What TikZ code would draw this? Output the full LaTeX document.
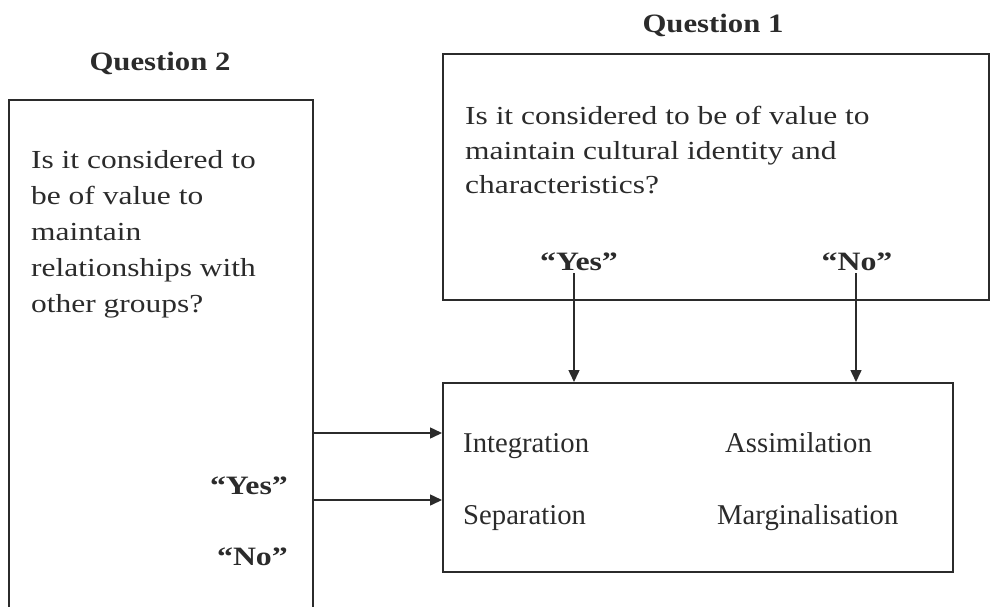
\documentclass[tikz,border=0pt]{standalone}
\usepackage{fontspec}
\setmainfont{Liberation Serif}
\newfontfamily\wideserif[FakeStretch=1.21,Ligatures=TeX]{Liberation Serif}
\newfontfamily\widebold[FakeStretch=1.16,Ligatures=TeX]{Liberation Serif Bold}
\newfontfamily\quotebold[FakeStretch=1.2,Ligatures=TeX]{Liberation Serif Bold}
\usetikzlibrary{arrows.meta}
\definecolor{ink}{HTML}{2B2B2B}
\tikzset{
  frame/.style={draw=ink, line width=1.7pt, rectangle, inner sep=0pt, anchor=north west},
  body/.style={text=ink, font=\wideserif\fontsize{26}{36}\selectfont, inner sep=0pt, align=left},
  outcome/.style={text=ink, font=\fontsize{28.7}{34}\selectfont, inner sep=0pt},
  head/.style={text=ink, font=\widebold\fontsize{26.5}{34}\selectfont, inner sep=0pt},
  answer/.style={text=ink, font=\quotebold\fontsize{26.5}{34}\selectfont, inner sep=0pt},
  link/.style={draw=ink, line width=1.5pt, -{Triangle[length=12pt,width=11pt]}}
}
\begin{document}
\begin{tikzpicture}[x=1pt, y=-1pt]
\useasboundingbox (0,0) rectangle (991,606);
\clip (0,0) rectangle (991,606);

% boxes
\node[frame, minimum width=304pt, minimum height=530pt] (q2box) at (8,99) {};
\node[frame, minimum width=546pt, minimum height=246pt] (q1box) at (442,53) {};
\node[frame, minimum width=510pt, minimum height=189pt] (outbox) at (442,382) {};

% headings
\node[head, anchor=base] (q2head) at (160,70) {Question 2};
\node[head, anchor=base] (q1head) at (713,32) {Question 1};

% questions
\node[body, anchor=north west] (q2text) at (31,150)
  {Is it considered to\\be of value to\\maintain\\relationships with\\other groups?};
\node[body, anchor=north west, font=\wideserif\fontsize{26}{34.5}\selectfont] (q1text) at (465,106)
  {Is it considered to be of value to\\maintain cultural identity and\\characteristics?};

% answers of question 1
\node[answer, anchor=base] (yes1) at (579,270) {“Yes”};
\node[answer, anchor=base] (no1) at (857,270) {“No”};

% answers of question 2
\node[answer, anchor=base east] (yes2) at (288,494) {“Yes”};
\node[answer, anchor=base east] (no2) at (288,565) {“No”};

% outcomes
\node[outcome, anchor=base west] (integ) at (463,452) {Integration};
\node[outcome, anchor=base west] (assim) at (725,452) {Assimilation};
\node[outcome, anchor=base west] (separ) at (463,524) {Separation};
\node[outcome, anchor=base west] (margi) at (717,524) {Marginalisation};

% connectors
\coordinate (r1) at (312,433);
\coordinate (r2) at (312,500);
\draw[link] (r1) -- (r1 -| outbox.west);
\draw[link] (r2) -- (r2 -| outbox.west);
\coordinate (d1) at (574,273);
\coordinate (d2) at (856,273);
\draw[link] (d1) -- (d1 |- outbox.north);
\draw[link] (d2) -- (d2 |- outbox.north);
\end{tikzpicture}
\end{document}
